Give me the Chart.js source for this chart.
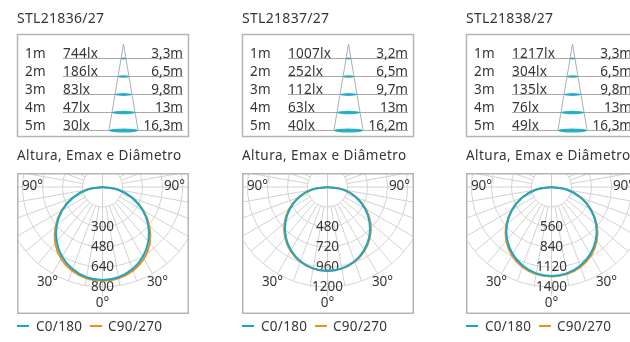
<!DOCTYPE html>
<html>
<head>
<meta charset="utf-8">
<script src="https://cdn.jsdelivr.net/npm/chart.js@4.4.0/dist/chart.umd.min.js"></script>
<style>
    html, body { margin: 0; padding: 0; background: #fff; }
    body { width: 630px; height: 342px; overflow: hidden; position: relative; font-family: 'Noto Sans', sans-serif; }
    canvas.polar { position: absolute; top: 173px; }
    #overlay { position: absolute; left: 0; top: 0; pointer-events: none; }
    #overlay text { fill: #353535; font-family: 'Noto Sans', sans-serif; }
</style>
</head>
<body>
<script>
// products and table
var products = ['STL21836/27', 'STL21837/27', 'STL21838/27'];
var heights = ['1m', '2m', '3m', '4m', '5m'];
var luxValues = [
    [744, 186, 83, 47, 30],
    [1007, 252, 112, 63, 40],
    [1217, 304, 135, 76, 49]
];
var diameters = [
    ['3,3', '6,5', '9,8', '13', '16,3'],
    ['3,2', '6,5', '9,7', '13', '16,2'],
    ['3,3', '6,5', '9,8', '13', '16,3']
];

// polar curves (cd), gamma 0..90
var gammaAngles = [0, 10, 20, 30, 40, 50, 60, 70, 80, 90];
var c0Values = [
    [744, 733, 699, 644, 570, 478, 372, 254, 129, 0],
    [1007, 992, 948, 876, 780, 658, 520, 366, 200, 0],
    [1245, 1228, 1172, 1085, 965, 815, 635, 440, 225, 0]
];
var c90Values = [
    [750, 741, 712, 662, 588, 490, 378, 256, 128, 0],
    [1007, 995, 955, 886, 792, 674, 534, 376, 205, 0],
    [1252, 1238, 1190, 1108, 985, 828, 642, 442, 225, 0]
];

// ring step (cd) and ring labels
var ringSteps = [160, 240, 280];
var ringLabels = [
    ['300', '480', '640', '800'],
    ['480', '720', '960', '1200'],
    ['560', '840', '1120', '1400']
];

var panelOffsets = [0, 225, 449];
var cyan = '#18a8c6';
var orange = '#f28c1a';
var svgNS = 'http://www.w3.org/2000/svg';

function ToPoints(values) {
    var pts = [];
    var i, rad;
    for (i = values.length - 1; i >= 0; i--) {
        rad = gammaAngles[i] * Math.PI / 180;
        pts.push({ x: -values[i] * Math.sin(rad), y: -values[i] * Math.cos(rad) });
    }
    for (i = 1; i < values.length; i++) {
        rad = gammaAngles[i] * Math.PI / 180;
        pts.push({ x: values[i] * Math.sin(rad), y: -values[i] * Math.cos(rad) });
    }
    return pts;
}

function GridPlugin(index) {
    return {
        id: 'polarGrid',
        beforeDatasetsDraw: function (chart) {
            var ctx = chart.ctx;
            var area = chart.chartArea;
            var xs = chart.scales.x, ys = chart.scales.y;
            var cx = xs.getPixelForValue(0), cy = ys.getPixelForValue(0);
            var step = xs.getPixelForValue(ringSteps[index]) - cx;

            ctx.save();
            ctx.beginPath();
            ctx.rect(area.left, area.top, area.right - area.left, area.bottom - area.top);
            ctx.clip();

            ctx.strokeStyle = '#d2d2d2';
            ctx.lineWidth = 1;
            for (var i = 1; i <= 5; i++) {
                ctx.beginPath();
                ctx.arc(cx, cy, i * step, 0, Math.PI * 2);
                ctx.stroke();
            }
            for (var a = 10; a <= 170; a += 10) {
                var rad = a * Math.PI / 180;
                [-1, 1].forEach(function (side) {
                    ctx.beginPath();
                    ctx.moveTo(cx + side * step * Math.sin(rad), cy + step * Math.cos(rad));
                    ctx.lineTo(cx + side * 5 * step * Math.sin(rad), cy + 5 * step * Math.cos(rad));
                    ctx.stroke();
                });
            }
            ctx.beginPath();
            ctx.moveTo(cx, cy - 5 * step);
            ctx.lineTo(cx, cy + 5.45 * step);
            ctx.stroke();

            ctx.fillStyle = '#353535';
            ctx.font = '13.5px "Noto Sans"';
            ctx.textAlign = 'center';
            ctx.textBaseline = 'middle';
            ctx.fillText('90°', cx - 3.5 * step, cy - 1);
            ctx.fillText('90°', cx + 3.6 * step, cy - 1);
            var r30 = 5.5 * step, rad30 = 30 * Math.PI / 180;
            ctx.fillText('30°', cx - r30 * Math.sin(rad30), cy + r30 * Math.cos(rad30));
            ctx.fillText('30°', cx + r30 * Math.sin(rad30), cy + r30 * Math.cos(rad30));
            ctx.fillText('0°', cx, cy + 5.8 * step);
            for (var j = 0; j < ringLabels[index].length; j++) {
                ctx.fillText(ringLabels[index][j], cx, cy + (j + 2) * step);
            }
            ctx.restore();
        }
    };
}

function CreatePolar(index) {
    var k = ringSteps[index] / 20;
    var canvas = document.createElement('canvas');
    canvas.width = 171;
    canvas.height = 140;
    canvas.className = 'polar';
    canvas.style.left = (panelOffsets[index] + 17) + 'px';
    document.body.appendChild(canvas);

    new Chart(canvas, {
        type: 'scatter',
        data: {
            datasets: [{
                label: 'C0/180',
                data: ToPoints(c0Values[index]),
                showLine: true,
                borderColor: cyan,
                borderWidth: 2,
                pointRadius: 0,
                tension: 0.4
            }, {
                label: 'C90/270',
                data: ToPoints(c90Values[index]),
                showLine: true,
                borderColor: orange,
                borderWidth: 2,
                pointRadius: 0,
                tension: 0.4
            }]
        },
        options: {
            responsive: false,
            animation: false,
            devicePixelRatio: 1,
            layout: { padding: 0 },
            plugins: { legend: { display: false }, tooltip: { enabled: false } },
            scales: {
                x: { type: 'linear', display: false, min: -85.5 * k, max: 85.5 * k },
                y: { type: 'linear', display: false, min: -126 * k, max: 14 * k }
            }
        },
        plugins: [GridPlugin(index)]
    });
}

function SvgEl(svg, name, attrs, text) {
    var el = document.createElementNS(svgNS, name);
    for (var key in attrs) el.setAttribute(key, attrs[key]);
    if (text !== undefined) el.textContent = text;
    svg.appendChild(el);
    return el;
}

function DrawPanelText(svg, index) {
    var off = panelOffsets[index];
    var rowY = [58, 76, 94, 112, 130];

    SvgEl(svg, 'text', { x: off + 17, y: 23, 'font-size': 14, 'letter-spacing': 0.3 }, products[index]);
    SvgEl(svg, 'rect', { x: off + 17.5, y: 34.5, width: 171, height: 102, fill: 'none', stroke: '#b4b4b4', 'stroke-width': 1.5 });

    for (var i = 0; i < heights.length; i++) {
        SvgEl(svg, 'line', { x1: off + 63, x2: off + 183, y1: rowY[i] + 0.5, y2: rowY[i] + 0.5, stroke: '#a8a8a8', 'stroke-width': 1 });
        SvgEl(svg, 'text', { x: off + 25, y: rowY[i], 'font-size': 13.5, 'letter-spacing': 0.3 }, heights[i]);
        SvgEl(svg, 'text', { x: off + 63, y: rowY[i], 'font-size': 13.5, 'letter-spacing': 0.3 }, luxValues[index][i] + 'lx');
        SvgEl(svg, 'text', { x: off + 183, y: rowY[i], 'font-size': 13.5, 'text-anchor': 'end' }, diameters[index][i] + 'm');
    }

    // light cone
    var apexX = off + 123.5, apexY = 44;
    SvgEl(svg, 'polyline', { points: (off + 109) + ',130 ' + apexX + ',' + apexY + ' ' + (off + 138) + ',130', fill: 'none', stroke: '#9a9a9a', 'stroke-width': 0.8 });
    for (var j = 0; j < rowY.length; j++) {
        var rx = 14.5 * (rowY[j] - apexY) / (130 - apexY);
        SvgEl(svg, 'ellipse', { cx: apexX, cy: rowY[j] + 0.5, rx: rx, ry: 0.9 + j * 0.3, fill: cyan, 'fill-opacity': 0.9 });
    }

    SvgEl(svg, 'text', { x: off + 17, y: 160, 'font-size': 13.5, 'letter-spacing': 0.45 }, 'Altura, Emax e Diâmetro');
    SvgEl(svg, 'rect', { x: off + 17.75, y: 173.75, width: 170.5, height: 139.5, fill: 'none', stroke: '#b4b4b4', 'stroke-width': 1.5 });

    SvgEl(svg, 'line', { x1: off + 17, x2: off + 29, y1: 326, y2: 326, stroke: cyan, 'stroke-width': 2 });
    SvgEl(svg, 'text', { x: off + 36, y: 331, 'font-size': 13.5, 'letter-spacing': 0.3 }, 'C0/180');
    SvgEl(svg, 'line', { x1: off + 90, x2: off + 102, y1: 326, y2: 326, stroke: orange, 'stroke-width': 2 });
    SvgEl(svg, 'text', { x: off + 108, y: 331, 'font-size': 13.5, 'letter-spacing': 0.3 }, 'C90/270');
}

for (var p = 0; p < products.length; p++) {
    CreatePolar(p);
}

var overlay = document.createElementNS(svgNS, 'svg');
overlay.setAttribute('id', 'overlay');
overlay.setAttribute('width', 630);
overlay.setAttribute('height', 342);
document.body.appendChild(overlay);
for (var q = 0; q < products.length; q++) {
    DrawPanelText(overlay, q);
}
</script>
</body>
</html>
